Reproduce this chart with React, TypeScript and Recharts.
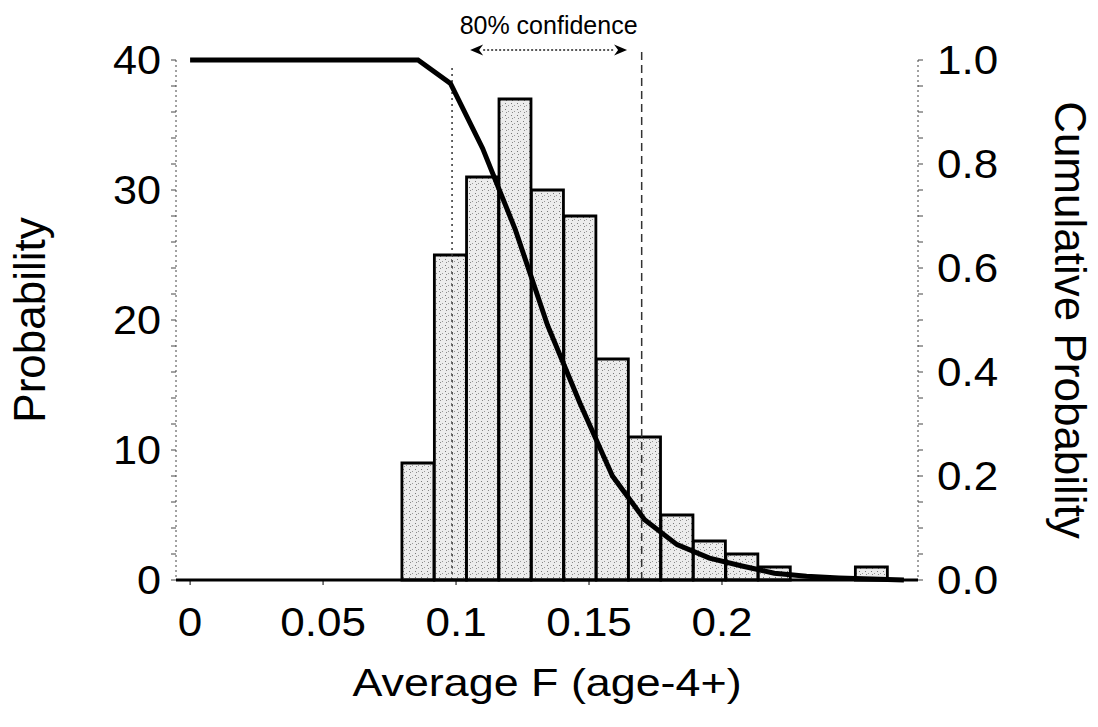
import React from "react";
import { ComposedChart, Bar, Line, XAxis, YAxis, ReferenceLine } from "recharts";

// bin mid-points (Average F), histogram heights and the exceedance curve
const binMid = [0.0857, 0.0979, 0.11, 0.1222, 0.1344, 0.1466, 0.1588, 0.1709, 0.1831, 0.1953, 0.2075, 0.2197, 0.2318, 0.244, 0.2562];
const probability = [9, 25, 31, 37, 30, 28, 17, 11, 5, 3, 2, 1, 0, 0, 1];
const cumulative = [1.0, 0.955, 0.83, 0.675, 0.49, 0.34, 0.2, 0.116, 0.068, 0.042, 0.027, 0.013, 0.007, 0.004, 0.002];
const curveStart = { f: 0, cum: 1.0 };
const curveEnd = { f: 0.2684, cum: 0 };

const confidenceLow = 0.0985;
const confidenceHigh = 0.1698;
const arrowFrom = 0.1053;
const arrowTo = 0.1643;

const xTicks = [0, 0.05, 0.1, 0.15, 0.2];
const leftTicks = [0, 2, 4, 6, 8, 10, 12, 14, 16, 18, 20, 22, 24, 26, 28, 30, 32, 34, 36, 38, 40];
const rightTicks = [0, 0.05, 0.1, 0.15, 0.2, 0.25, 0.3, 0.35, 0.4, 0.45, 0.5, 0.55, 0.6, 0.65, 0.7, 0.75, 0.8, 0.85, 0.9, 0.95, 1.0];

const data = [
  curveStart,
  ...binMid.map((f, i) => ({ f, prob: probability[i], cum: cumulative[i] })),
  curveEnd,
];

const FONT = '"Liberation Sans", Arial, Helvetica, sans-serif';

function LeftTick({ x, y, payload }: any) {
  if (payload.value % 10 !== 0) return <g />;
  return (
    <text transform={`translate(${x},${y}) scale(1.08,1)`} textAnchor="end" dominantBaseline="central" fontSize={40} fontFamily={FONT} fill="#000">
      {payload.value}
    </text>
  );
}

function RightTick({ x, y, payload }: any) {
  if (Math.round(payload.value * 100) % 20 !== 0) return <g />;
  return (
    <text transform={`translate(${x},${y}) scale(1.1,1)`} textAnchor="start" dominantBaseline="central" fontSize={40} fontFamily={FONT} fill="#000">
      {payload.value.toFixed(1)}
    </text>
  );
}

function BottomTick({ x, y, payload }: any) {
  return (
    <text transform={`translate(${x},${y + 49}) scale(1.1,1)`} textAnchor="middle" fontSize={40} fontFamily={FONT} fill="#000">
      {String(payload.value)}
    </text>
  );
}

function ArrowShape({ x1, y1, x2, y2 }: any) {
  const h = 13;
  const w = 5.5;
  return (
    <g>
      <line x1={x1 + h} y1={y1} x2={x2 - h} y2={y2} stroke="#222" strokeWidth={1.5} strokeDasharray="2 2" />
      <polygon points={`${x1},${y1} ${x1 + h},${y1 - w} ${x1 + h - 4},${y1} ${x1 + h},${y1 + w}`} fill="#000" />
      <polygon points={`${x2},${y2} ${x2 - h},${y2 - w} ${x2 - h + 4},${y2} ${x2 - h},${y2 + w}`} fill="#000" />
    </g>
  );
}

export default function App() {
  return (
    <div style={{ position: "absolute", left: 0, top: 0, width: 1098, height: 727, background: "#fff" }}>
      <ComposedChart width={1098} height={727} data={data} margin={{ top: 60, right: 0, bottom: 0, left: 0 }} barCategoryGap={0} barGap={0}>
        <defs>
          <pattern id="stipple" width="6" height="6" patternUnits="userSpaceOnUse">
            <rect width="6" height="6" fill="#ececec" />
            <rect x="1" y="1" width="1" height="1" fill="#777" />
            <rect x="4" y="3" width="1" height="1" fill="#999" />
            <rect x="2" y="4" width="1" height="1" fill="#888" />
          </pattern>
        </defs>
        <XAxis
          dataKey="f"
          type="number"
          domain={[-0.0053, 0.2737]}
          allowDataOverflow
          ticks={xTicks}
          height={147}
          axisLine={{ stroke: "#000", strokeWidth: 3 }}
          tickLine={{ stroke: "#000", strokeWidth: 1 }}
          tickSize={5}
          tick={<BottomTick />}
          label={{
            content: ({ viewBox }: any) => (
              <text
                transform={`translate(${viewBox.x + viewBox.width / 2},${viewBox.y + 116}) scale(1.18,1)`}
                textAnchor="middle"
                fontSize={38}
                fontFamily={FONT}
                fill="#000"
              >
                Average F (age-4+)
              </text>
            ),
          }}
        />
        <YAxis
          yAxisId="left"
          orientation="left"
          width={176}
          domain={[0, 40]}
          ticks={leftTicks}
          interval={0}
          axisLine={{ stroke: "#444", strokeWidth: 1, strokeDasharray: "2 3" }}
          tickLine={{ stroke: "#444", strokeWidth: 1 }}
          tickSize={5}
          tickMargin={10}
          tick={<LeftTick />}
          label={{
            content: ({ viewBox }: any) => (
              <text
                transform={`translate(${viewBox.x + 45},${viewBox.y + viewBox.height / 2}) rotate(-90)`}
                textAnchor="middle"
                fontSize={44}
                fontFamily={FONT}
                fill="#000"
              >
                Probability
              </text>
            ),
          }}
        />
        <YAxis
          yAxisId="right"
          orientation="right"
          width={180}
          domain={[0, 1]}
          ticks={rightTicks}
          interval={0}
          axisLine={{ stroke: "#444", strokeWidth: 1, strokeDasharray: "2 3" }}
          tickLine={{ stroke: "#444", strokeWidth: 1 }}
          tickSize={5}
          tickMargin={14}
          tick={<RightTick />}
          label={{
            content: ({ viewBox }: any) => (
              <text
                transform={`translate(${viewBox.x + 137},${viewBox.y + viewBox.height / 2}) rotate(90)`}
                textAnchor="middle"
                fontSize={44}
                fontFamily={FONT}
                fill="#000"
              >
                Cumulative Probability
              </text>
            ),
          }}
        />
        <Bar yAxisId="left" dataKey="prob" fill="url(#stipple)" stroke="#000" strokeWidth={2.8} isAnimationActive={false} />
        <ReferenceLine
          yAxisId="left"
          segment={[{ x: confidenceLow, y: 0 }, { x: confidenceLow, y: 39.6 }]}
          stroke="#333"
          strokeWidth={1.5}
          strokeDasharray="2 4"
          ifOverflow="visible"
        />
        <ReferenceLine
          yAxisId="left"
          segment={[{ x: confidenceHigh, y: 0 }, { x: confidenceHigh, y: 41 }]}
          stroke="#333"
          strokeWidth={1.5}
          strokeDasharray="8 5"
          ifOverflow="visible"
        />
        <ReferenceLine
          yAxisId="left"
          segment={[{ x: arrowFrom, y: 40.77 }, { x: arrowTo, y: 40.77 }]}
          ifOverflow="visible"
          shape={<ArrowShape />}
          label={{ value: "80% confidence", position: "top", offset: 16, fontSize: 25, fontFamily: FONT, fill: "#000" }}
        />
        <Line yAxisId="right" dataKey="cum" type="linear" stroke="#000" strokeWidth={5} dot={false} connectNulls isAnimationActive={false} />
      </ComposedChart>
    </div>
  );
}
